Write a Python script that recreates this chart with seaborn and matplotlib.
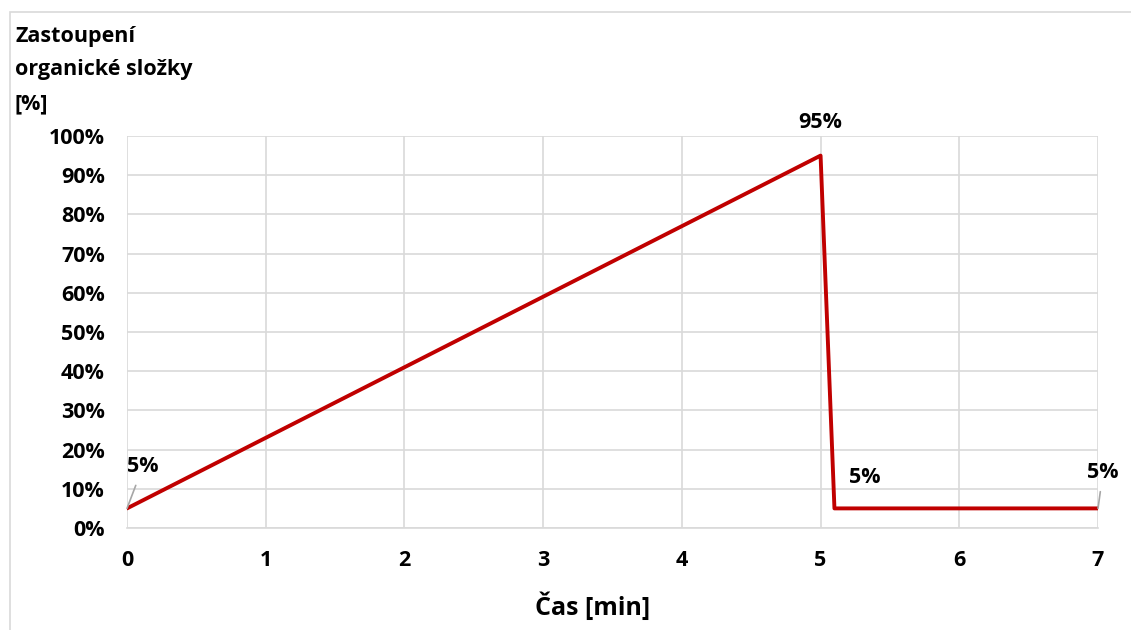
import numpy as np
import pandas as pd
import matplotlib
matplotlib.use("Agg")
import matplotlib.pyplot as plt
import matplotlib.patches as mpatches
from matplotlib.ticker import FuncFormatter, MultipleLocator
import seaborn as sns

# data
cas_min = [0, 5, 5.1, 7]
organika_pct = [5, 95, 5, 5]
popisky = ["5%", "95%", "5%", "5%"]
# label offsets in pixels (dx, dy) and whether a leader line is drawn
offsety = [(16, 42), (0, 33), (30, 31), (5, 36)]
vodici = [True, False, False, True]

df = pd.DataFrame({"cas": cas_min, "org": organika_pct})

sns.set_theme(style="white")
plt.rcParams["font.family"] = ["Open Sans", "DejaVu Sans"]
plt.rcParams["font.weight"] = "bold"
plt.rcParams["text.color"] = "black"

fig, ax = plt.subplots(figsize=(11.31, 6.3), dpi=100)
fig.subplots_adjust(left=127 / 1131, right=1098 / 1131,
                    top=1 - 136 / 630, bottom=1 - 528 / 630)

# outer chart frame
fig.patches.append(mpatches.Rectangle(
    (10 / 1131, -0.1), 1.2, 1 - 12 / 630 + 0.1, transform=fig.transFigure,
    fill=False, edgecolor="#D9D9D9", linewidth=1.2, zorder=0))

sns.lineplot(data=df, x="cas", y="org", ax=ax, color="#C00000",
             linewidth=2.8, sort=False, estimator=None, zorder=3)

ax.set_xlim(0, 7)
ax.set_ylim(0, 100)
ax.xaxis.set_major_locator(MultipleLocator(1))
ax.yaxis.set_major_locator(MultipleLocator(10))
ax.yaxis.set_major_formatter(FuncFormatter(lambda v, p: f"{v:.0f}%"))
ax.grid(True, color="#D9D9D9", linewidth=1.2)
ax.set_axisbelow(True)
for s in ["top", "right", "left"]:
    ax.spines[s].set_visible(False)
ax.spines["bottom"].set_color("#D9D9D9")
ax.spines["bottom"].set_linewidth(1.2)
ax.tick_params(axis="both", length=0, labelsize=15.5, colors="black")
ax.tick_params(axis="x", pad=16)
ax.tick_params(axis="y", pad=16)
for lab in ax.get_xticklabels() + ax.get_yticklabels():
    lab.set_fontweight("bold")

ax.set_xlabel("Čas [min]", fontsize=18, fontweight="bold", labelpad=12,
              color="black")
ax.xaxis.set_label_coords(0.479, -0.2)
ax.xaxis.label.set_verticalalignment("center")
ax.set_ylabel("")
fig.text(15 / 1131, 1 - 26 / 630, "Zastoupení\norganické složky\n[%]",
         fontsize=15.5, fontweight="bold", ha="left", va="top",
         linespacing=1.78, color="black")

for x, y, txt, (dx, dy), lead in zip(cas_min, organika_pct, popisky, offsety, vodici):
    arrow = dict(arrowstyle="-", color="#A6A6A6", lw=1.2,
                 shrinkA=4, shrinkB=0) if lead else None
    ax.annotate(txt, xy=(x, y), xytext=(dx, dy), textcoords="offset pixels",
                ha="center", va="center", fontsize=15.5, fontweight="bold",
                color="black", arrowprops=arrow, annotation_clip=False,
                zorder=4)

fig.savefig("out.png", dpi=100)
